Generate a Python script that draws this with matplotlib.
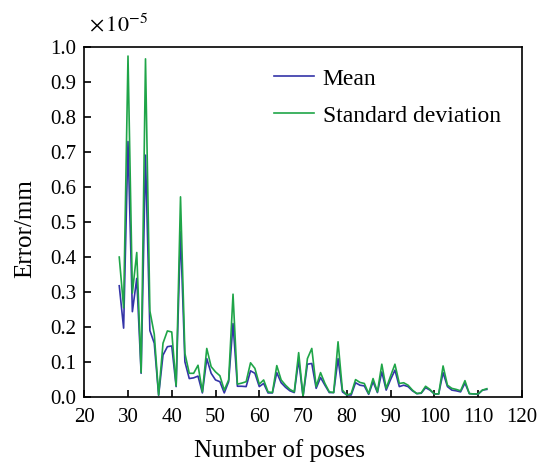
import matplotlib
matplotlib.use("Agg")
import matplotlib.pyplot as plt
from matplotlib.ticker import FormatStrFormatter
import numpy as np

plt.rcParams['font.family'] = ['Liberation Serif', 'DejaVu Serif']
plt.rcParams['mathtext.fontset'] = 'stix'

# number of poses, 28 .. 112
poses = np.arange(28, 113)

# errors in units of 1e-5 mm
mean_err = [0.318, 0.197, 0.730, 0.244, 0.339, 0.068, 0.691, 0.190, 0.154, 0.005,
            0.120, 0.144, 0.146, 0.030, 0.472, 0.101, 0.053, 0.055, 0.060, 0.012,
            0.110, 0.068, 0.049, 0.044, 0.012, 0.044, 0.210, 0.031, 0.031, 0.030,
            0.075, 0.068, 0.030, 0.039, 0.012, 0.012, 0.070, 0.041, 0.028, 0.018,
            0.013, 0.106, 0.002, 0.094, 0.096, 0.025, 0.056, 0.034, 0.013, 0.013,
            0.110, 0.015, 0.006, 0.006, 0.041, 0.034, 0.032, 0.008, 0.044, 0.013,
            0.072, 0.020, 0.050, 0.077, 0.030, 0.034, 0.030, 0.018, 0.010, 0.011,
            0.027, 0.020, 0.009, 0.009, 0.070, 0.030, 0.020, 0.018, 0.015, 0.040,
            0.010, 0.009, 0.008, 0.020, 0.022]
std_err = [0.400, 0.255, 0.974, 0.297, 0.413, 0.070, 0.966, 0.246, 0.180, 0.006,
           0.154, 0.189, 0.186, 0.032, 0.572, 0.125, 0.068, 0.068, 0.091, 0.015,
           0.139, 0.087, 0.072, 0.061, 0.020, 0.049, 0.294, 0.037, 0.040, 0.044,
           0.098, 0.082, 0.037, 0.049, 0.015, 0.013, 0.090, 0.049, 0.034, 0.022,
           0.015, 0.127, 0.002, 0.110, 0.139, 0.030, 0.070, 0.039, 0.015, 0.013,
           0.158, 0.020, 0.006, 0.010, 0.050, 0.042, 0.039, 0.010, 0.053, 0.015,
           0.094, 0.025, 0.060, 0.094, 0.039, 0.041, 0.034, 0.020, 0.010, 0.012,
           0.031, 0.022, 0.009, 0.009, 0.089, 0.034, 0.025, 0.022, 0.018, 0.047,
           0.010, 0.009, 0.009, 0.020, 0.024]

fig = plt.figure(figsize=(5.47, 4.65), dpi=100)
ax = fig.add_axes([0.154, 0.146, 0.800, 0.753])

ax.plot(poses, mean_err, color='#3434a8', lw=1.2, label='Mean')
ax.plot(poses, std_err, color='#1fa548', lw=1.2, label='Standard deviation')

ax.set_xlim(20, 120)
ax.set_ylim(0, 1.0)
ax.set_xticks(np.arange(20, 121, 10))
ax.set_yticks(np.arange(0, 1.01, 0.1))
ax.yaxis.set_major_formatter(FormatStrFormatter('%.1f'))
ax.tick_params(direction='in', length=5, width=1.2, labelsize=15)
ax.tick_params(axis='x', pad=8)
ax.tick_params(axis='y', pad=6)
for s in ax.spines.values():
    s.set_linewidth(1.2)

ax.set_xlabel('Number of poses', fontsize=18)
ax.xaxis.set_label_coords(0.446, -0.12)
ax.set_ylabel('Error/mm', fontsize=18)
ax.yaxis.set_label_coords(-0.11, 0.48)

ax.text(0.01, 1.03, r'$\times\,10^{-5}$', transform=ax.transAxes, fontsize=16,
        ha='left', va='bottom')

ax.legend(loc='upper right', bbox_to_anchor=(1.0, 1.0), frameon=False, fontsize=17,
          handlelength=1.7, handletextpad=0.35, labelspacing=0.65)

fig.savefig('out.png', dpi=100)
